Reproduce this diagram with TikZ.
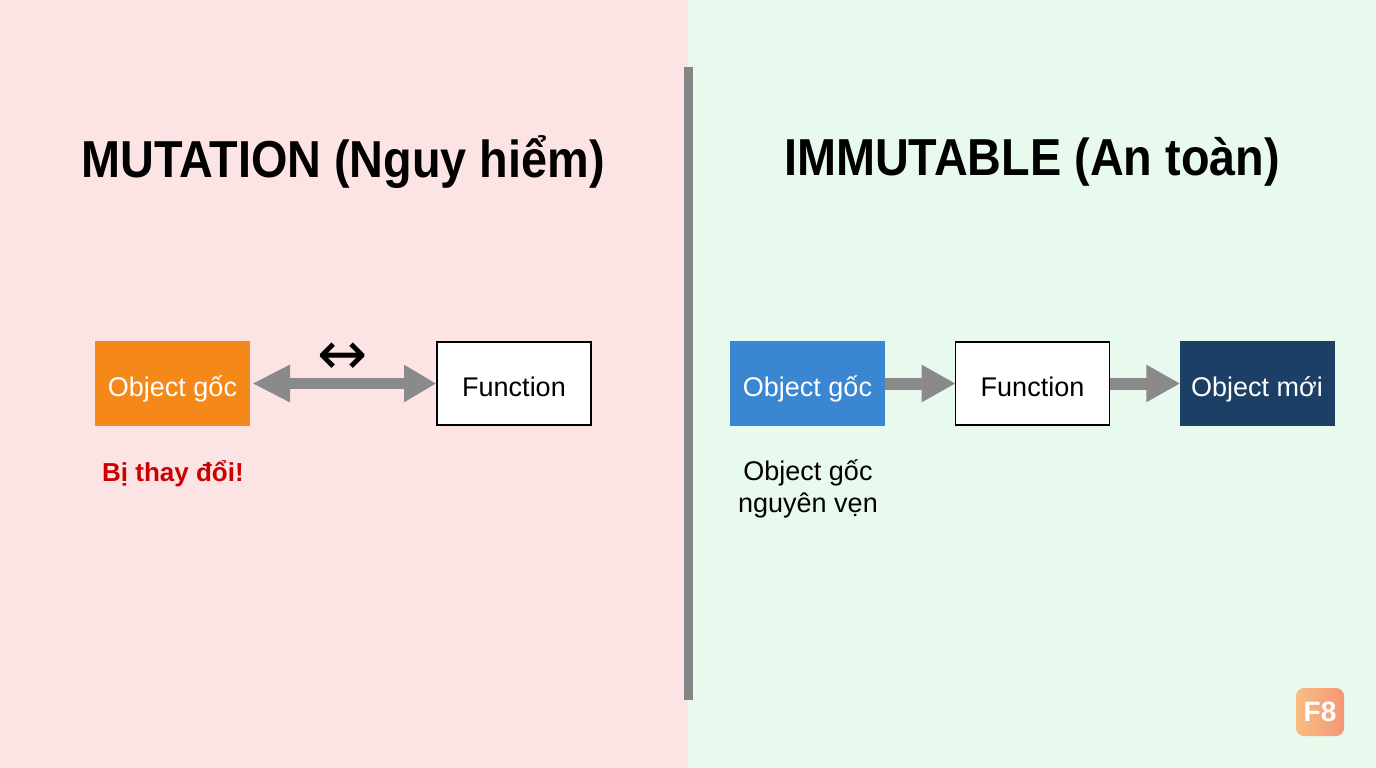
\documentclass[tikz,border=0pt]{standalone}
\usepackage{fontspec}
\setmainfont{Liberation Sans}
\newfontfamily\titlefont[FakeStretch=0.9]{Liberation Sans}
\newfontfamily\boxfont{Liberation Sans}
\newfontfamily\symfont{DejaVu Sans}
\usetikzlibrary{arrows.meta,shapes.geometric}
\definecolor{pinkbg}{RGB}{253,228,228}
\definecolor{greenbg}{RGB}{232,250,237}
\definecolor{divgray}{RGB}{133,133,133}
\definecolor{arrgray}{RGB}{138,138,138}
\definecolor{orangebox}{RGB}{244,137,26}
\definecolor{bluebox}{RGB}{58,134,209}
\definecolor{navybox}{RGB}{28,63,102}
\definecolor{redtxt}{RGB}{204,0,0}
\definecolor{logoA}{RGB}{247,190,128}
\definecolor{logoB}{RGB}{245,150,120}
\tikzset{
  boxbase/.style={minimum width=155pt, minimum height=85pt, inner sep=0pt, text height=28pt, text depth=3pt, font=\boxfont\fontsize{27}{32}\selectfont},
  filledbox/.style={boxbase, fill=#1, text=white},
  funcbox/.style={boxbase, fill=white, draw=black, line width=1.6pt, minimum width=154pt, minimum height=83pt},
  titletext/.style={font=\titlefont\bfseries\fontsize{52}{60}\selectfont, text=black},
  bigarrow/.style={draw=arrgray, line width=12pt, arrows={-{Triangle[length=34pt,width=35pt]}}, shorten >=-1pt},
  dblarrow/.style={draw=arrgray, line width=11pt, arrows={{Triangle[length=38pt,width=35pt]}-{Triangle[length=32pt,width=35pt]}}},
  caption/.style={font=\boxfont\fontsize{27}{32}\selectfont, align=center, text=black}
}
\begin{document}
\begin{tikzpicture}[x=1pt,y=-1pt]
\useasboundingbox (0,0) rectangle (1376,768);
% backgrounds
\fill[pinkbg] (0,0) rectangle (688,768);
\fill[greenbg] (688,0) rectangle (1376,768);
\fill[divgray] (683.5,67) rectangle (692.5,700);
% titles
\node[titletext] (t1) at (343,162) {MUTATION (Nguy hiểm)};
\node[titletext] (t2) at (1032,162) {IMMUTABLE (An toàn)};
% left side
\node[filledbox=orangebox] (og) at (172.5,383.5) {Object gốc};
\node[funcbox] (f1) at (514,383.5) {Function};
\draw[dblarrow] (og.east) ++(2,0) coordinate (ogE) (ogE) -- (f1.west);
\node[font=\symfont\fontsize{60}{60}\selectfont, inner sep=0pt] (sym) at (343,359) {↔};
\node[font=\boxfont\bfseries\fontsize{26}{30}\selectfont, text=redtxt] (bi) at (173,474) {Bị thay đổi!};
% right side
\node[filledbox=bluebox] (ob) at (807.5,383.5) {Object gốc};
\node[funcbox] (f2) at (1032.5,383.5) {Function};
\node[filledbox=navybox] (on) at (1257,383.5) {Object mới};
\draw[bigarrow] (ob.east) -- (f2.west);
\draw[bigarrow] (f2.east) -- (on.west);
\node[caption] (cap) at (808,489) {Object gốc\\nguyên vẹn};
% logo
\shade[left color=logoA, right color=logoB, rounded corners=8pt] (1296,688) rectangle (1344,736);
\node[font=\bfseries\fontsize{28}{28}\selectfont, text=white] (logo) at (1320,712) {F8};
\end{tikzpicture}
\end{document}
